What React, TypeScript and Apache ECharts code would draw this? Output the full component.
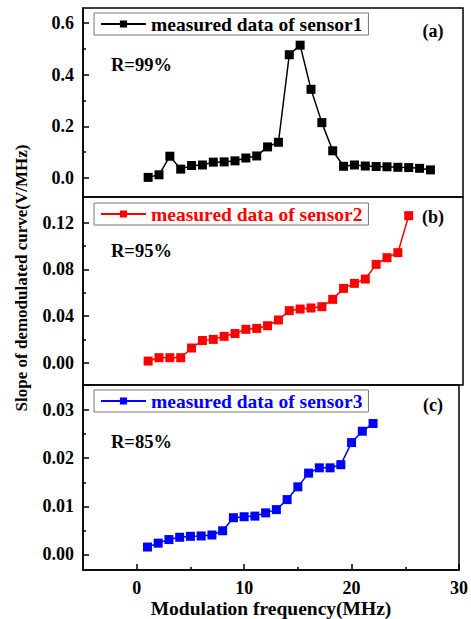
import React, { useEffect, useRef } from "react";
import * as echarts from "echarts";

const FONT = "'Liberation Serif', 'Times New Roman', serif";

const freqA = [1, 2, 3, 4, 5, 6, 7, 8, 9, 10, 11, 12, 13, 14, 15, 16, 17, 18, 19, 20, 21, 22, 23, 24, 25, 26, 27];
const sensor1 = [0.002, 0.012, 0.084, 0.034, 0.048, 0.05, 0.061, 0.062, 0.066, 0.077, 0.085, 0.12, 0.138, 0.477, 0.514, 0.343, 0.214, 0.105, 0.045, 0.05, 0.046, 0.044, 0.043, 0.041, 0.04, 0.037, 0.031];

const freqB = [1, 2, 3, 4, 5, 6, 7, 8, 9, 10, 11, 12, 13, 14, 15, 16, 17, 18, 19, 20, 21, 22, 23, 24, 25];
const sensor2 = [0.0014, 0.0043, 0.0043, 0.0043, 0.0126, 0.019, 0.02, 0.0226, 0.025, 0.0286, 0.0294, 0.0317, 0.0366, 0.0446, 0.046, 0.0469, 0.048, 0.0543, 0.0637, 0.068, 0.0717, 0.0843, 0.09, 0.0943, 0.126];

const freqC = [1, 2, 3, 4, 5, 6, 7, 8, 9, 10, 11, 12, 13, 14, 15, 16, 17, 18, 19, 20, 21, 22];
const sensor3 = [0.00155, 0.00236, 0.0031, 0.00358, 0.00378, 0.00385, 0.00405, 0.00493, 0.00764, 0.00784, 0.00797, 0.00865, 0.00932, 0.0114, 0.01405, 0.0169, 0.018, 0.018, 0.01865, 0.02324, 0.0256, 0.0272];

const seriesNames = ["measured data of sensor1", "measured data of sensor2", "measured data of sensor3"];
const seriesColors = ["#000000", "#ff0000", "#0000ff"];
const panelLetters = ["(a)", "(b)", "(c)"];
const rValues = ["R=99%", "R=95%", "R=85%"];

const xTicksMajor = [0, 10, 20, 30];
const xTicksMinor = [5, 15, 25];
const yTicksA = [0, 0.2, 0.4, 0.6];
const yMinorA = [0.1, 0.3, 0.5];
const yTicksB = [0, 0.04, 0.08, 0.12];
const yMinorB = [0.02, 0.06, 0.1];
const yTicksC = [0, 0.01, 0.02, 0.03];
const yMinorC = [0.005, 0.015, 0.025];

const yRanges = [
  [-0.074, 0.658],
  [-0.0191, 0.142],
  [-0.00324, 0.0352],
];
const yDecimals = [1, 2, 2];

export default function App() {
  const ref = useRef<HTMLDivElement>(null);

  useEffect(() => {
    if (!ref.current) return;
    const chart = echarts.init(ref.current, null, { renderer: "svg" });

    const gridLeft = 83;
    const gridWidth = 380;
    const grids = [
      { left: gridLeft, top: 8, width: gridWidth, height: 189 },
      { left: gridLeft, top: 197, width: gridWidth, height: 188 },
      { left: gridLeft, top: 385, width: gridWidth, height: 189 },
    ].map((g) => ({ ...g, show: true, borderColor: "#000", borderWidth: 1.5, backgroundColor: "transparent" }));

    const labelStyle = { fontFamily: FONT, fontWeight: "bold" as const, fontSize: 18, color: "#000" };

    const xAxes: any[] = [0, 1, 2].map((i) => ({
      type: "value",
      gridIndex: i,
      min: -5,
      max: 30,
      interval: 5,
      position: "bottom",
      axisLine: { show: i === 2, onZero: false, lineStyle: { color: "#000", width: 1.5 } },
      axisTick: i === 2
        ? { show: true, inside: true, length: 6, customValues: xTicksMajor, lineStyle: { color: "#000", width: 1.5 } }
        : { show: false },
      axisLabel: i === 2
        ? { show: true, customValues: xTicksMajor, margin: 9, ...labelStyle }
        : { show: false },
      splitLine: { show: false },
      name: i === 2 ? "Modulation frequency(MHz)" : "",
      nameLocation: "middle",
      nameGap: 26,
      nameTextStyle: { ...labelStyle, fontSize: 19.5, verticalAlign: "top" },
    }));
    xAxes.push({
      type: "value",
      gridIndex: 2,
      min: -5,
      max: 30,
      interval: 5,
      position: "bottom",
      axisLine: { show: false, onZero: false },
      axisTick: { show: true, inside: true, length: 3, customValues: xTicksMinor, lineStyle: { color: "#000", width: 1.5 } },
      axisLabel: { show: false },
      splitLine: { show: false },
    });

    const majors = [yTicksA, yTicksB, yTicksC];
    const minors = [yMinorA, yMinorB, yMinorC];
    const yAxes: any[] = [];
    [0, 1, 2].forEach((i) => {
      yAxes.push({
        type: "value",
        gridIndex: i,
        min: yRanges[i][0],
        max: yRanges[i][1],
        position: "left",
        axisLine: { show: true, onZero: false, lineStyle: { color: "#000", width: 1.5 } },
        axisTick: { show: true, inside: true, length: 6, customValues: majors[i], lineStyle: { color: "#000", width: 1.5 } },
        axisLabel: {
          show: true,
          customValues: majors[i],
          margin: 9,
          formatter: (v: number) => v.toFixed(yDecimals[i]),
          ...labelStyle,
        },
        splitLine: { show: false },
      });
      yAxes.push({
        type: "value",
        gridIndex: i,
        min: yRanges[i][0],
        max: yRanges[i][1],
        position: "left",
        axisLine: { show: false, onZero: false },
        axisTick: { show: true, inside: true, length: 3, customValues: minors[i], lineStyle: { color: "#000", width: 1.5 } },
        axisLabel: { show: false },
        splitLine: { show: false },
      });
    });

    const datasets = [
      freqA.map((x, k) => [x, sensor1[k]]),
      freqB.map((x, k) => [x, sensor2[k]]),
      freqC.map((x, k) => [x, sensor3[k]]),
    ];

    const series = [0, 1, 2].map((i) => ({
      type: "line",
      name: seriesNames[i],
      xAxisIndex: i,
      yAxisIndex: i * 2,
      data: datasets[i],
      symbol: "rect",
      symbolSize: 9,
      showAllSymbol: true,
      lineStyle: { color: seriesColors[i], width: 1.5 },
      itemStyle: { color: seriesColors[i] },
      z: 3,
    }));

    const legendTops = [13, 203, 390];
    const legends = [0, 1, 2].map((i) => ({
      data: [seriesNames[i]],
      left: 94,
      top: legendTops[i],
      orient: "horizontal",
      padding: [1, 6, 1, 6],
      borderColor: "#777",
      borderWidth: 1,
      itemWidth: 45,
      itemHeight: 9,
      selectedMode: false,
      textStyle: { fontFamily: FONT, fontWeight: "bold", fontSize: 19.5, color: seriesColors[i] },
    }));

    const letterY = [31, 217, 405];
    const rY = [65, 251, 442];
    const graphics: any[] = [];
    [0, 1, 2].forEach((i) => {
      graphics.push({
        type: "text",
        x: 433,
        y: letterY[i],
        style: { text: panelLetters[i], font: `bold 18px ${FONT}`, fill: "#000", textAlign: "center", textVerticalAlign: "middle" },
      });
      graphics.push({
        type: "text",
        x: 111,
        y: rY[i],
        style: { text: rValues[i], font: `bold 18.5px ${FONT}`, fill: "#000", textAlign: "left", textVerticalAlign: "middle" },
      });
    });
    graphics.push({
      type: "text",
      x: 21,
      y: 278,
      rotation: Math.PI / 2,
      style: {
        text: "Slope of demodulated curve(V/MHz)",
        font: `bold 17px ${FONT}`,
        fill: "#000",
        textAlign: "center",
        textVerticalAlign: "middle",
      },
    });

    chart.setOption({
      animation: false,
      backgroundColor: "#fff",
      grid: grids,
      xAxis: xAxes,
      yAxis: yAxes,
      legend: legends,
      series,
      graphic: graphics,
    });

    return () => chart.dispose();
  }, []);

  return (
    <div
      ref={ref}
      style={{ position: "fixed", left: 0, top: 0, width: 471, height: 619 }}
    />
  );
}
